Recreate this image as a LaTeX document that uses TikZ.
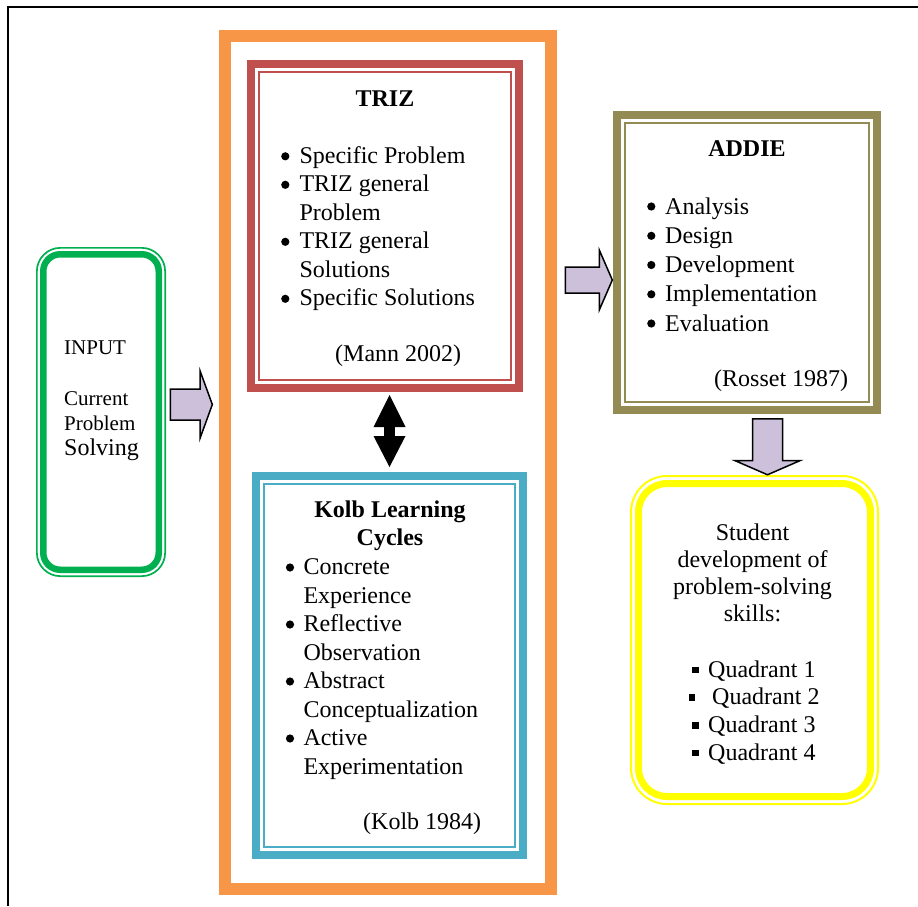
\documentclass[tikz,border=0pt]{standalone}
\usepackage{fontspec}
\setmainfont{Liberation Serif}
\usetikzlibrary{shapes.arrows}
\usetikzlibrary{arrows.meta}
\definecolor{framorange}{HTML}{F79646}
\definecolor{trizred}{HTML}{C0504D}
\definecolor{kolbblue}{HTML}{4BACC6}
\definecolor{addieolive}{HTML}{948A54}
\definecolor{inputgreen}{HTML}{00B050}
\definecolor{skillyellow}{HTML}{FFFF00}
\definecolor{arrowlilac}{HTML}{CCC0DA}
\newcommand{\sqbul}[1]{\llap{\rule[3.8pt]{6.6pt}{6.6pt}\hspace{#1}}}
\tikzset{
	bigbox/.style={
		rectangle,
		draw=#1, line width=8pt,
		fill=white,
		inner sep=0pt},
	roundbox/.style={
		rectangle,
		draw=#1, line width=6.5pt,
		fill=white,
		inner sep=0pt},
	blockarrow/.style={
		single arrow,
		draw=black, line width=1.5pt,
		fill=arrowlilac,
		inner xsep=0pt},
	txt/.style={
		inner sep=0pt,
		font=\fontsize{24pt}{28.5pt}\selectfont},
	head/.style={
		txt,
		font=\fontsize{24pt}{28pt}\selectfont\bfseries},
}

\begin{document}
\begin{tikzpicture}[x=1pt, y=-1pt]
	\useasboundingbox (0,0) rectangle (918,906);
	% page frame, right and bottom sides are off the page
	\draw[line width=1.5pt] (8,906) |- (918,7);

	% boxes
	\node[bigbox=framorange, line width=12pt, minimum width=326pt, minimum height=853pt] (frame) at (388,462.5) {};
	\node[bigbox=trizred, minimum width=268pt, minimum height=324pt] (triz) at (385,226) {};
	\node[bigbox=kolbblue, minimum width=267pt, minimum height=379pt] (kolb) at (389.5,665.5) {};
	\node[bigbox=addieolive, minimum width=260pt, minimum height=295pt] (addie) at (747,262.5) {};
	\foreach \b/\c in {triz/trizred, kolb/kolbblue, addie/addieolive}
		\draw[\c, line width=2.3pt] ([shift={(11.85,11.85)}]\b.north west) rectangle ([shift={(-11.85,-11.85)}]\b.south east);

	\node[roundbox=inputgreen, rounded corners=17pt, minimum width=115.5pt, minimum height=315.5pt] (input) at (101,412) {};
	\draw[inputgreen, line width=1.7pt, rounded corners=23.5pt] ([shift={(-3.15,-3.15)}]input.north west) rectangle ([shift={(3.15,3.15)}]input.south east);
	\node[roundbox=skillyellow, line width=7pt, rounded corners=28.5pt, minimum width=232pt, minimum height=313pt] (skills) at (754.5,640) {};
	\draw[skillyellow, line width=2pt, rounded corners=36pt] ([shift={(-4,-4)}]skills.north west) rectangle ([shift={(4,4)}]skills.south east);

	% arrows
	\node[blockarrow, inner ysep=14.75pt, minimum height=42pt, single arrow head extend=18pt, single arrow tip angle=140] (inarrow) at (188.5,404.5) {};
	\node[blockarrow, inner ysep=12.25pt, minimum height=47pt, single arrow head extend=17pt, single arrow tip angle=133] (toaddie) at (586,280) {};
	\node[blockarrow, inner ysep=14.25pt, rotate=-90, minimum height=56pt, single arrow head extend=17.5pt, single arrow tip angle=133] (toskills) at (767.5,443.5) {};
	\draw[line width=11pt, {Triangle[width=32pt,length=32pt,line width=0pt]}-{Triangle[width=32pt,length=31pt,line width=0pt]}, shorten <=3pt, shorten >=5pt] (triz.south -| kolb.north) -- (kolb.north);

	% texts
	\node[txt, anchor=base west, font=\fontsize{21pt}{25pt}\selectfont] (inputtext) at (64,354)
		{\begin{tabular}[t]{@{}l@{}}INPUT\\[26pt]Current\\Problem\\{\fontsize{24pt}{26pt}\selectfont Solving}\end{tabular}};

	\node[head, anchor=base] (trizhead) at (385,106) {TRIZ};
	\node[txt, anchor=base west] (trizlist) at (299.3,163)
		{\begin{tabular}[t]{@{}l@{}}Specific Problem\\TRIZ general\\Problem\\TRIZ general\\Solutions\\Specific Solutions\end{tabular}};
	\node[txt, anchor=base west] (trizcite) at (335,361) {(Mann 2002)};

	\node[head, anchor=base] (kolbhead) at (390,517) {\begin{tabular}[t]{@{}c@{}}Kolb Learning\\Cycles\end{tabular}};
	\node[txt, anchor=base west] (kolblist) at (303.3,574.5)
		{\begin{tabular}[t]{@{}l@{}}Concrete\\Experience\\Reflective\\Observation\\Abstract\\Conceptualization\\Active\\Experimentation\end{tabular}};
	\node[txt, anchor=base west] (kolbcite) at (363,829.5) {(Kolb 1984)};

	\node[head, anchor=base] (addiehead) at (747,156) {ADDIE};
	\node[txt, anchor=base west, font=\fontsize{24pt}{29.25pt}\selectfont] (addielist) at (665,214)
		{\begin{tabular}[t]{@{}l@{}}Analysis\\Design\\Development\\Implementation\\Evaluation\end{tabular}};
	\node[txt, anchor=base west] (addiecite) at (714,386) {(Rosset 1987)};

	% list bullets
	\foreach \x/\y in {285.3/156.3, 285.3/184.8, 285.3/241.8, 285.3/298.8,
		290/567.5, 290/624.5, 290/681.5, 290/738.5,
		651.3/206.5, 651.3/235.8, 651.3/265, 651.3/294.3, 651.3/323.5}
		\fill (\x,\y) circle (4.1pt);

	\node[txt, anchor=base, font=\fontsize{24pt}{27pt}\selectfont] (skillstext) at (752.5,540)
		{\begin{tabular}[t]{@{}c@{}}Student\\development of\\problem-solving\\skills:\end{tabular}};
	\node[txt, anchor=base west, font=\fontsize{24pt}{27.7pt}\selectfont] (quadlist) at (708,677)
		{\begin{tabular}[t]{@{}l@{}}\sqbul{9.7pt}Quadrant 1\\\hspace{4pt}\sqbul{17pt}Quadrant 2\\\sqbul{9.7pt}Quadrant 3\\\sqbul{9.7pt}Quadrant 4\end{tabular}};
\end{tikzpicture}
\end{document}
